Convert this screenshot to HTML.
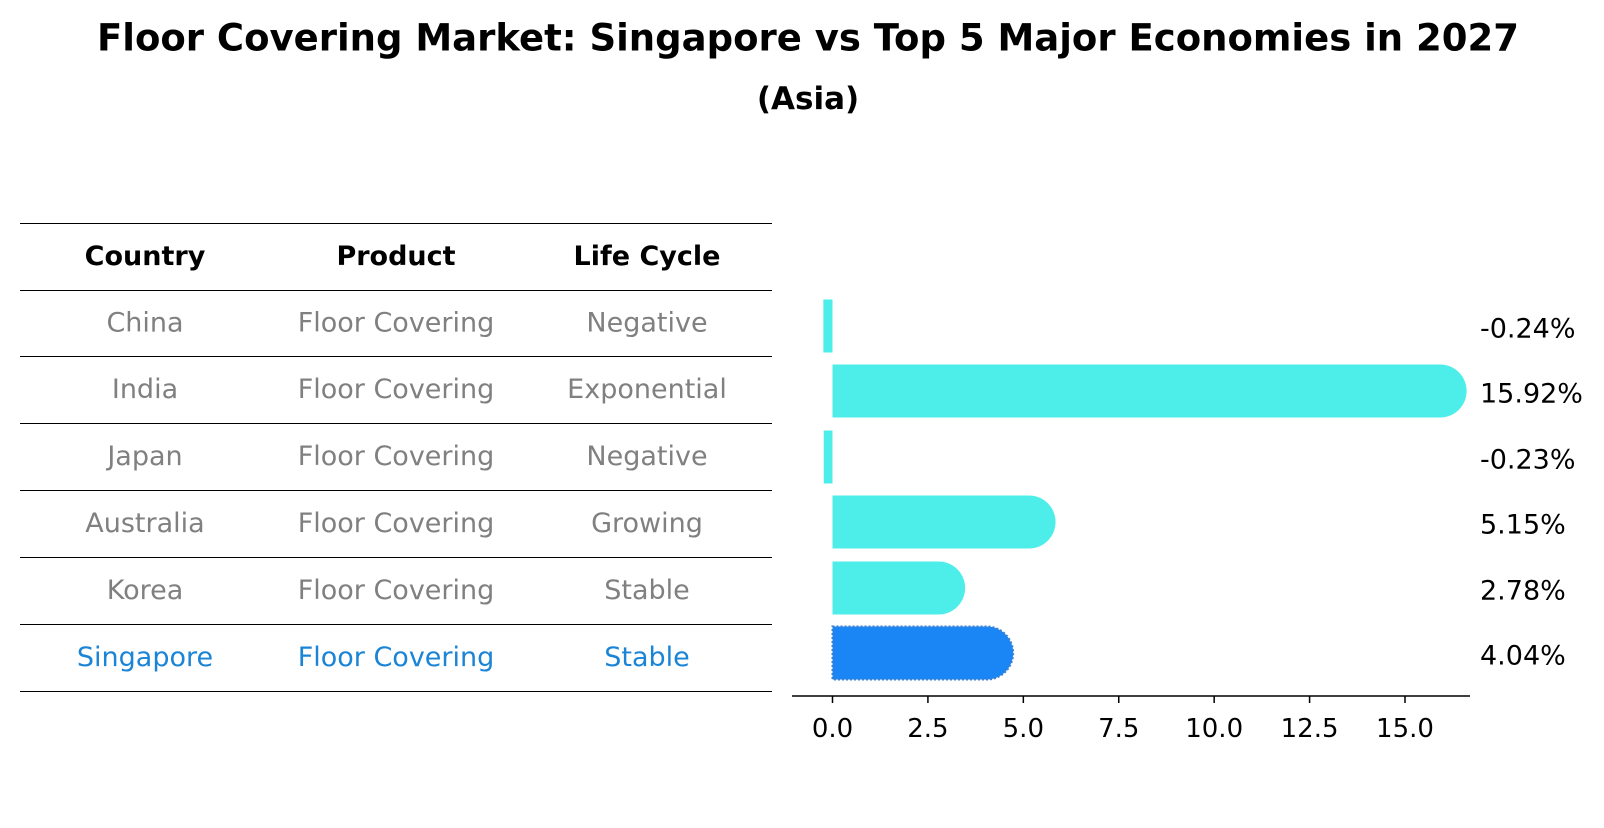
<!DOCTYPE html>
<html><head><meta charset="utf-8"><style>
body{margin:0;background:#fff;font-family:"Liberation Sans","DejaVu Sans",sans-serif}
</style></head><body>
<svg id="c" width="1604" height="823" xmlns="http://www.w3.org/2000/svg" font-family="DejaVu Sans, Liberation Sans, sans-serif">
<text x="808" y="38" text-anchor="middle" dominant-baseline="central" font-size="37" font-weight="bold">Floor Covering Market: Singapore vs Top 5 Major Economies in 2027</text>
<text x="808" y="99" text-anchor="middle" dominant-baseline="central" font-size="31" font-weight="bold">(Asia)</text>
<g id="table"></g>
<g id="bars"></g>
</svg>
<script>
const countries=["China","India","Japan","Australia","Korea","Singapore"];
const products=["Floor Covering","Floor Covering","Floor Covering","Floor Covering","Floor Covering","Floor Covering"];
const lifeCycles=["Negative","Exponential","Negative","Growing","Stable","Stable"];
const growth=[-0.24,15.92,-0.23,5.15,2.78,4.04];
const ticks=[0,2.5,5,7.5,10,12.5,15];
const NS="http://www.w3.org/2000/svg";
function mk(t,a,p,txt){const e=document.createElementNS(NS,t);for(const k in a)e.setAttribute(k,a[k]);if(txt!==undefined)e.textContent=txt;p.appendChild(e);return e;}
const tbl=document.getElementById('table');
const lineY=[223,290,356,423,490,557,624,691];
lineY.forEach(y=>{const l=mk('line',{x1:20,x2:772,y1:y+0.5,y2:y+0.5,stroke:'#000','stroke-width':1,'shape-rendering':'crispEdges'},tbl);

});
const colX=[145,396,647];
["Country","Product","Life Cycle"].forEach((h,i)=>{const t=mk('text',{x:colX[i],y:(lineY[0]+lineY[1])/2,'text-anchor':'middle','dominant-baseline':'central','font-size':27,'font-weight':'bold'},tbl,h);

});
countries.forEach((c,i)=>{const y=(lineY[i+1]+lineY[i+2])/2;const col=c==="Singapore"?'#1a84d6':'#808080';
[c,products[i],lifeCycles[i]].forEach((v,j)=>{const t=mk('text',{x:colX[j],y:y,'text-anchor':'middle','dominant-baseline':'central','font-size':27,fill:col},tbl,v);

});});
const g=document.getElementById('bars');
const x0=832.5,sc=572.5/15;const X=v=>x0+v*sc;
const rowC=[326,391,457,522,588,653];const h=53,r=h/2;
growth.forEach((v,i)=>{const y=rowC[i]-h/2;const xe=X(v);const sg=countries[i]==="Singapore";
let d;
if(v>=0){d=`M${x0},${y}H${xe}A${r},${r} 0 0 1 ${xe},${y+h}H${x0}Z`;}
else{d=`M${xe},${y}H${x0}V${y+h}H${xe}Z`;}
const p=mk('path',{d:d,fill:sg?'#1a86f5':'#4deeea',stroke:sg?'#3d7fd0':'none','stroke-width':sg?2:0,'stroke-dasharray':sg?'2,2':''},g);


const t=mk('text',{x:1480,y:rowC[i]+3,'dominant-baseline':'central','font-size':27},g,v.toFixed(2)+'%');

});
const ax=mk('line',{x1:792,x2:1470,y1:696,y2:696,stroke:'#000','stroke-width':1.5},g);


ticks.forEach(v=>{mk('line',{x1:X(v),x2:X(v),y1:696,y2:703,stroke:'#000','stroke-width':1.5},g);
const t=mk('text',{x:X(v),y:729,'text-anchor':'middle','dominant-baseline':'central','font-size':26},g,v.toFixed(1));

});
</script>
</body></html>
